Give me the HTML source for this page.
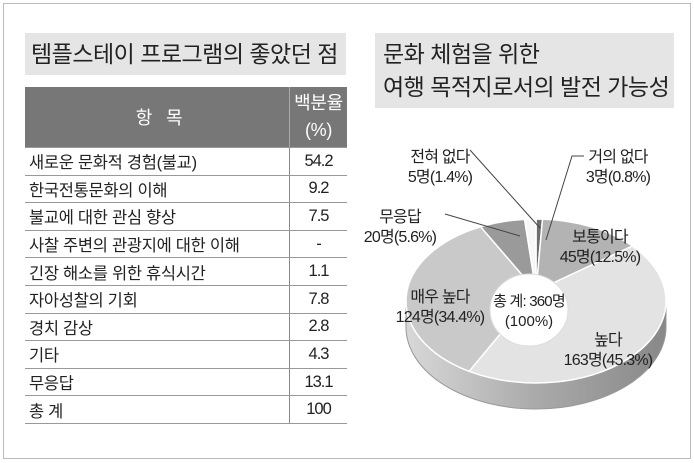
<!DOCTYPE html>
<html><head><meta charset="utf-8"><style>
body{margin:0;width:694px;height:463px;background:#fff;font-family:"Liberation Sans","Noto Sans CJK KR",sans-serif;position:relative;overflow:hidden;color:#222}
.frame{position:absolute;left:3px;top:3px;width:686px;height:454px;border:1px solid #bbb}
.title{position:absolute;background:#e5e5e5;font-size:23px;color:#222;letter-spacing:-0.5px}
table{position:absolute;left:25px;top:87px;width:322px;border-collapse:collapse;font-size:16.5px;letter-spacing:-0.3px}
td,th{border-bottom:1px solid #999;height:26.6px;padding:0 0 0 4px}
td.v{border-left:1px solid #888;text-align:center;padding:0;width:57px;letter-spacing:-1px}
th{background:#777;color:#fff;font-weight:normal;height:60px;font-size:18px}
th.p{border-left:1px solid #aaa;padding:0;line-height:27px}
</style></head><body>
<div class="frame"></div>
<div class="title" style="left:25px;top:33px;width:321px;height:42px;line-height:42px;padding-left:6px;box-sizing:border-box">템플스테이 프로그램의 좋았던 점</div>
<table>
<tr><th>항&nbsp;&nbsp;&nbsp;목</th><th class="p">백분율<br>(%)</th></tr>
<tr><td>새로운 문화적 경험(불교)</td><td class="v">54.2</td></tr>
<tr><td>한국전통문화의 이해</td><td class="v">9.2</td></tr>
<tr><td>불교에 대한 관심 향상</td><td class="v">7.5</td></tr>
<tr><td>사찰 주변의 관광지에 대한 이해</td><td class="v">-</td></tr>
<tr><td>긴장 해소를 위한 휴식시간</td><td class="v">1.1</td></tr>
<tr><td>자아성찰의 기회</td><td class="v">7.8</td></tr>
<tr><td>경치 감상</td><td class="v">2.8</td></tr>
<tr><td>기타</td><td class="v">4.3</td></tr>
<tr><td>무응답</td><td class="v">13.1</td></tr>
<tr><td>총 계</td><td class="v">100</td></tr>
</table>
<div class="title" style="left:375px;top:33px;width:299px;height:75px;line-height:33px;padding:5px 0 0 8px;box-sizing:border-box">문화 체험을 위한<br>여행 목적지로서의 발전 가능성</div>
<svg id="pie" width="694" height="463" style="position:absolute;left:0;top:0">
<defs><linearGradient id="side" x1="0" x2="1"><stop offset="0" stop-color="#d8d8d8"/><stop offset="0.5" stop-color="#aaa"/><stop offset="1" stop-color="#888"/></linearGradient></defs>
<g id="g"></g>
</svg>
<script>
const labels=["거의 없다","보통이다","높다","매우 높다","무응답","전혀 없다"];
const counts=[3,45,163,124,20,5];
const pcts=[0.8,12.5,45.3,34.4,5.6,1.4];
const colors=["#6e6e6e","#b3b3b3","#e3e3e3","#c9c9c9","#9a9a9a","#f7f7f7"];
const NS="http://www.w3.org/2000/svg",g=document.getElementById("g");
const cx=536,cy=301,rx=130,ry=82,depth=26;
function mk(t,a){const e=document.createElementNS(NS,t);for(const k in a)e.setAttribute(k,a[k]);g.appendChild(e);return e;}
let side=mk("path",{d:`M${cx-rx},${cy} A${rx},${ry} 0 0 0 ${cx+rx},${cy} L${cx+rx},${cy+depth} A${rx},${ry} 0 0 1 ${cx-rx},${cy+depth} Z`,fill:"url(#side)",stroke:"#999"});


const total=pcts.reduce((a,b)=>a+b,0);
let a0=-Math.PI/2;
function pt(a){return [cx+rx*Math.cos(a),cy+ry*Math.sin(a)];}
pcts.forEach((p,i)=>{const a1=a0+p/total*2*Math.PI;const [x0,y0]=pt(a0),[x1,y1]=pt(a1);
const large=(a1-a0)>Math.PI?1:0;
const s=mk("path",{d:`M${cx},${cy-10} L${x0},${y0} A${rx},${ry} 0 ${large} 1 ${x1},${y1} Z`,fill:colors[i],stroke:"#fff","stroke-width":1.5});


a0=a1;});
const hole=mk("ellipse",{cx:cx-7,cy:cy+9,rx:39,ry:36,fill:"#fff",stroke:"#ddd"});


const pos=[[618,162,"middle"],[600,242,"middle"],[608,345,"middle"],[440,302,"middle"],[400,222,"middle"],[440,162,"middle"]];
labels.forEach((l,i)=>{const [x,y,an]=pos[i];
const t=mk("text",{x:x,y:y,"text-anchor":an,"font-size":16,fill:"#222","letter-spacing":"-0.8"});


const s1=document.createElementNS(NS,"tspan");s1.setAttribute("x",x);s1.textContent=l;t.appendChild(s1);
const s2=document.createElementNS(NS,"tspan");s2.setAttribute("x",x);s2.setAttribute("dy",20);s2.textContent=counts[i]+"명("+pcts[i]+"%)";t.appendChild(s2);});
[[["M470,150","L540,228"]],[["M584,156","L572,156","L546,240"]],[["M445,214","L520,236"]]].forEach((ls,i)=>{const l=mk("path",{d:ls[0].join(" "),fill:"none",stroke:"#444","stroke-width":1});});
const c1=mk("text",{x:cx-7,y:cy+5,"text-anchor":"middle","font-size":15,fill:"#222","letter-spacing":"-0.8"});c1.textContent="총 계: 360명";


const c2=mk("text",{x:cx-7,y:cy+25,"text-anchor":"middle","font-size":15,fill:"#222"});c2.textContent="(100%)";


</script>
</body></html>
